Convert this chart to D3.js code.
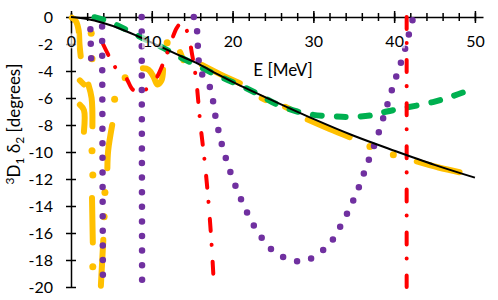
<!DOCTYPE html>
<html>
<head>
<meta charset="utf-8">
<script src="https://cdn.jsdelivr.net/npm/d3@7"></script>
<style>
  body { margin: 0; background: #fff; }
  svg { font-family: Lato, "Open Sans", sans-serif; }
</style>
</head>
<body>
<svg id="chart" width="498" height="300"></svg>
<script>
// tick values
const xMajor = [0, 10, 20, 30, 40, 50];
const xMinor = d3.range(0, 51, 2);
const yMajor = d3.range(-20, 1, 2);

// black solid curve
const blackPts = [[0, 0], [2, -0.15], [4, -0.45], [6, -0.85], [8, -1.35], [10, -1.9], [12, -2.45],
  [14, -3.0], [16, -3.55], [18, -4.2], [20, -4.8], [25, -6.2], [30, -7.55], [35, -8.8],
  [40, -9.9], [45, -10.95], [50, -11.9]];

// green dashed curve
const greenPts = [[2.9, -0.02], [4.5, -0.3], [6.7, -0.9], [9.5, -1.75], [11.3, -2.25],
  [12.9, -2.8], [16, -3.7], [18, -4.3], [20.7, -5.0], [22.8, -5.6], [25.6, -6.5], [28, -7.0],
  [30, -7.25], [32.4, -7.35], [34.5, -7.4], [37.6, -7.25], [39.1, -7.0], [41.6, -6.7],
  [44.8, -6.3], [47.3, -5.85], [50.2, -5.2]];

// yellow pieces (broken line) and isolated points
const yellowSegs = [
  [[0.1, -0.05], [0.6, -0.3], [0.95, -1.0], [1.05, -2.0], [1.2, -2.9]],
  [[1.1, -4.7], [1.6, -5.0]],
  [[1.1, -6.5], [1.6, -6.9], [1.6, -8.5]],
  [[2.15, -5.0], [2.55, -6.0], [2.65, -8.1]],
  [[5.1, -8.0], [4.6, -9.9], [4.5, -11.2]],
  [[2.6, -13.4], [2.7, -16.7]],
  [[4.0, -16.5], [3.7, -19.9]],
  [[8.9, -3.8], [9.6, -3.9], [10.2, -4.4], [10.7, -5.0], [11.2, -4.7], [11.4, -3.9]],
  [[13.5, -2.6], [13.9, -3.2]],
  [[16.2, -3.55], [18.5, -4.25], [20.9, -4.9]],
  [[23.6, -6.0], [24.1, -6.15]],
  [[26.5, -6.65], [27.0, -6.8]],
  [[29.3, -7.6], [32, -8.3], [34.5, -8.9]],
  [[42.8, -10.7], [45.5, -11.15], [48.1, -11.5]]
];
const yellowDots = [[2.5, -1.2], [2.6, -3.1], [6.7, -4.5], [5.4, -6.1], [2.6, -9.9], [2.7, -11.7],
  [4.2, -13.0], [4.1, -14.8], [2.7, -18.5], [11.9, -1.9], [37.0, -9.6], [39.9, -10.2]];

// purple dotted pieces
const purpleSegs = [
  [[2.4, -0.9], [2.5, -3.2]],
  [[3.85, -0.7], [3.95, -19.7]],
  [[8.75, 0], [8.8, -19.7]],
  [[15.2, 0], [15.6, -1.0], [15.8, -3.2], [16.2, -4.2], [17.2, -5.2], [17.9, -7.4], [18.7, -9.5],
   [19.8, -11.6], [21.2, -13.7], [22.9, -15.7], [25.2, -17.4], [28.6, -18.1], [31.7, -17.0],
   [33.7, -15.1], [35.3, -13.1], [36.6, -11.0], [37.9, -8.9], [39.0, -6.8], [40.1, -4.7],
   [41.2, -2.7], [42.2, -0.4], [42.4, 0]]
];

// red dash-dot pieces
const redSegs = [
  [[3.96, -2.0], [4.7, -2.9], [5.45, -3.7], [6.8, -4.5], [7.7, -5.4], [8.8, -5.5], [9.8, -5.1],
   [10.6, -4.5], [11.3, -3.6], [12.25, -2.1], [13.1, -0.8], [13.7, -0.45], [14.4, -1.1],
   [15.0, -2.8], [15.5, -4.7], [16.0, -7.85], [16.6, -11.0], [17.1, -14.3], [17.45, -17.3],
   [17.7, -20]],
  [[41.55, 0], [41.55, -20]]
];

const svg = d3.select("#chart");
const x = d3.scaleLinear().domain([0, 51]).range([71, 483]);
const y = d3.scaleLinear().domain([-20, 0]).range([287, 17]);

const line = d3.line().x(d => x(d[0])).y(d => y(d[1])).curve(d3.curveCatmullRom);

// axes (lines only, under the data)
const gx = svg.append("g").attr("transform", "translate(0," + y(0) + ")");
gx.call(d3.axisBottom(x).tickValues(xMinor).tickSize(4).tickSizeOuter(0).tickFormat(""));
gx.selectAll(".tick line").attr("y1", -4);
const gxMaj = svg.append("g").attr("transform", "translate(0," + y(0) + ")");
gxMaj.call(d3.axisBottom(x).tickValues(xMajor).tickSize(6).tickSizeOuter(0).tickFormat(""));
gxMaj.select(".domain").remove();
gxMaj.selectAll(".tick line").attr("y1", -6);

const gy = svg.append("g").attr("transform", "translate(" + x(0) + ",0)");
gy.call(d3.axisLeft(y).tickValues(yMajor).tickSize(5).tickSizeOuter(0).tickPadding(13)
  .tickFormat(d => String(d)));
gy.selectAll(".tick line").attr("x1", 5);
gy.selectAll(".tick text").attr("font-size", 16).attr("font-family", "Lato");

svg.selectAll(".domain").attr("stroke", "#000").attr("stroke-width", 1.5);
svg.selectAll(".tick line").attr("stroke", "#000").attr("stroke-width", 1.5);

// series
const gYel = svg.append("g");
gYel.selectAll("path").data(yellowSegs).enter().append("path")
  .attr("d", line)
  .attr("fill", "none")
  .attr("stroke", "#FFC000")
  .attr("stroke-width", 6)
  .attr("stroke-linecap", "round")
  .attr("stroke-linejoin", "round");
gYel.selectAll("circle").data(yellowDots).enter().append("circle")
  .attr("cx", d => x(d[0]))
  .attr("cy", d => y(d[1]))
  .attr("r", 3.5)
  .attr("fill", "#FFC000");

svg.append("path")
  .attr("d", line(greenPts))
  .attr("fill", "none")
  .attr("stroke", "#00B050")
  .attr("stroke-width", 6)
  .attr("stroke-linecap", "round")
  .attr("stroke-dasharray", "9,15");

svg.append("g").selectAll("path").data(redSegs).enter().append("path")
  .attr("d", line)
  .attr("fill", "none")
  .attr("stroke", "#FF0000")
  .attr("stroke-width", 4)
  .attr("stroke-linecap", "round")
  .attr("stroke-dasharray", "12,14,0.1,17");

svg.append("g").selectAll("path").data(purpleSegs).enter().append("path")
  .attr("d", line)
  .attr("fill", "none")
  .attr("stroke", "#7030A0")
  .attr("stroke-width", 6.5)
  .attr("stroke-linecap", "round")
  .attr("stroke-dasharray", "0,14.6");

svg.append("path")
  .attr("d", line(blackPts))
  .attr("fill", "none")
  .attr("stroke", "#000")
  .attr("stroke-width", 2);

// x labels on top, with a light backing
const gxLab = svg.append("g").attr("transform", "translate(0," + y(0) + ")");
gxLab.call(d3.axisBottom(x).tickValues(xMajor).tickSize(0).tickPadding(19).tickFormat(d => String(d)));
gxLab.select(".domain").remove();
gxLab.selectAll(".tick text").attr("font-size", 16).attr("font-family", "Lato").attr("fill", "#000");
gxLab.selectAll(".tick").each(function () {
  const t = d3.select(this).select("text");
  const b = t.node().getBBox();
  d3.select(this).insert("rect", "text")
    .attr("x", b.x - 1).attr("y", b.y + 2)
    .attr("width", b.width + 2).attr("height", b.height - 4)
    .attr("fill", "#fff").attr("fill-opacity", 0.65);
});

// titles
svg.append("text")
  .attr("x", 283).attr("y", 76)
  .attr("text-anchor", "middle")
  .attr("font-size", 17)
  .text("E [MeV]");

const yt = svg.append("text")
  .attr("transform", "translate(20,124) rotate(-90)")
  .attr("text-anchor", "middle")
  .attr("font-size", 17);
yt.append("tspan").attr("font-size", 12).attr("dy", -6).text("3");
yt.append("tspan").attr("dy", 6).text("D");
yt.append("tspan").attr("font-size", 12).attr("dy", 4).text("1");
yt.append("tspan").attr("dy", -4).text(" δ");
yt.append("tspan").attr("font-size", 12).attr("dy", 4).text("2");
yt.append("tspan").attr("dy", -4).text(" [degrees]");
</script>
</body>
</html>
